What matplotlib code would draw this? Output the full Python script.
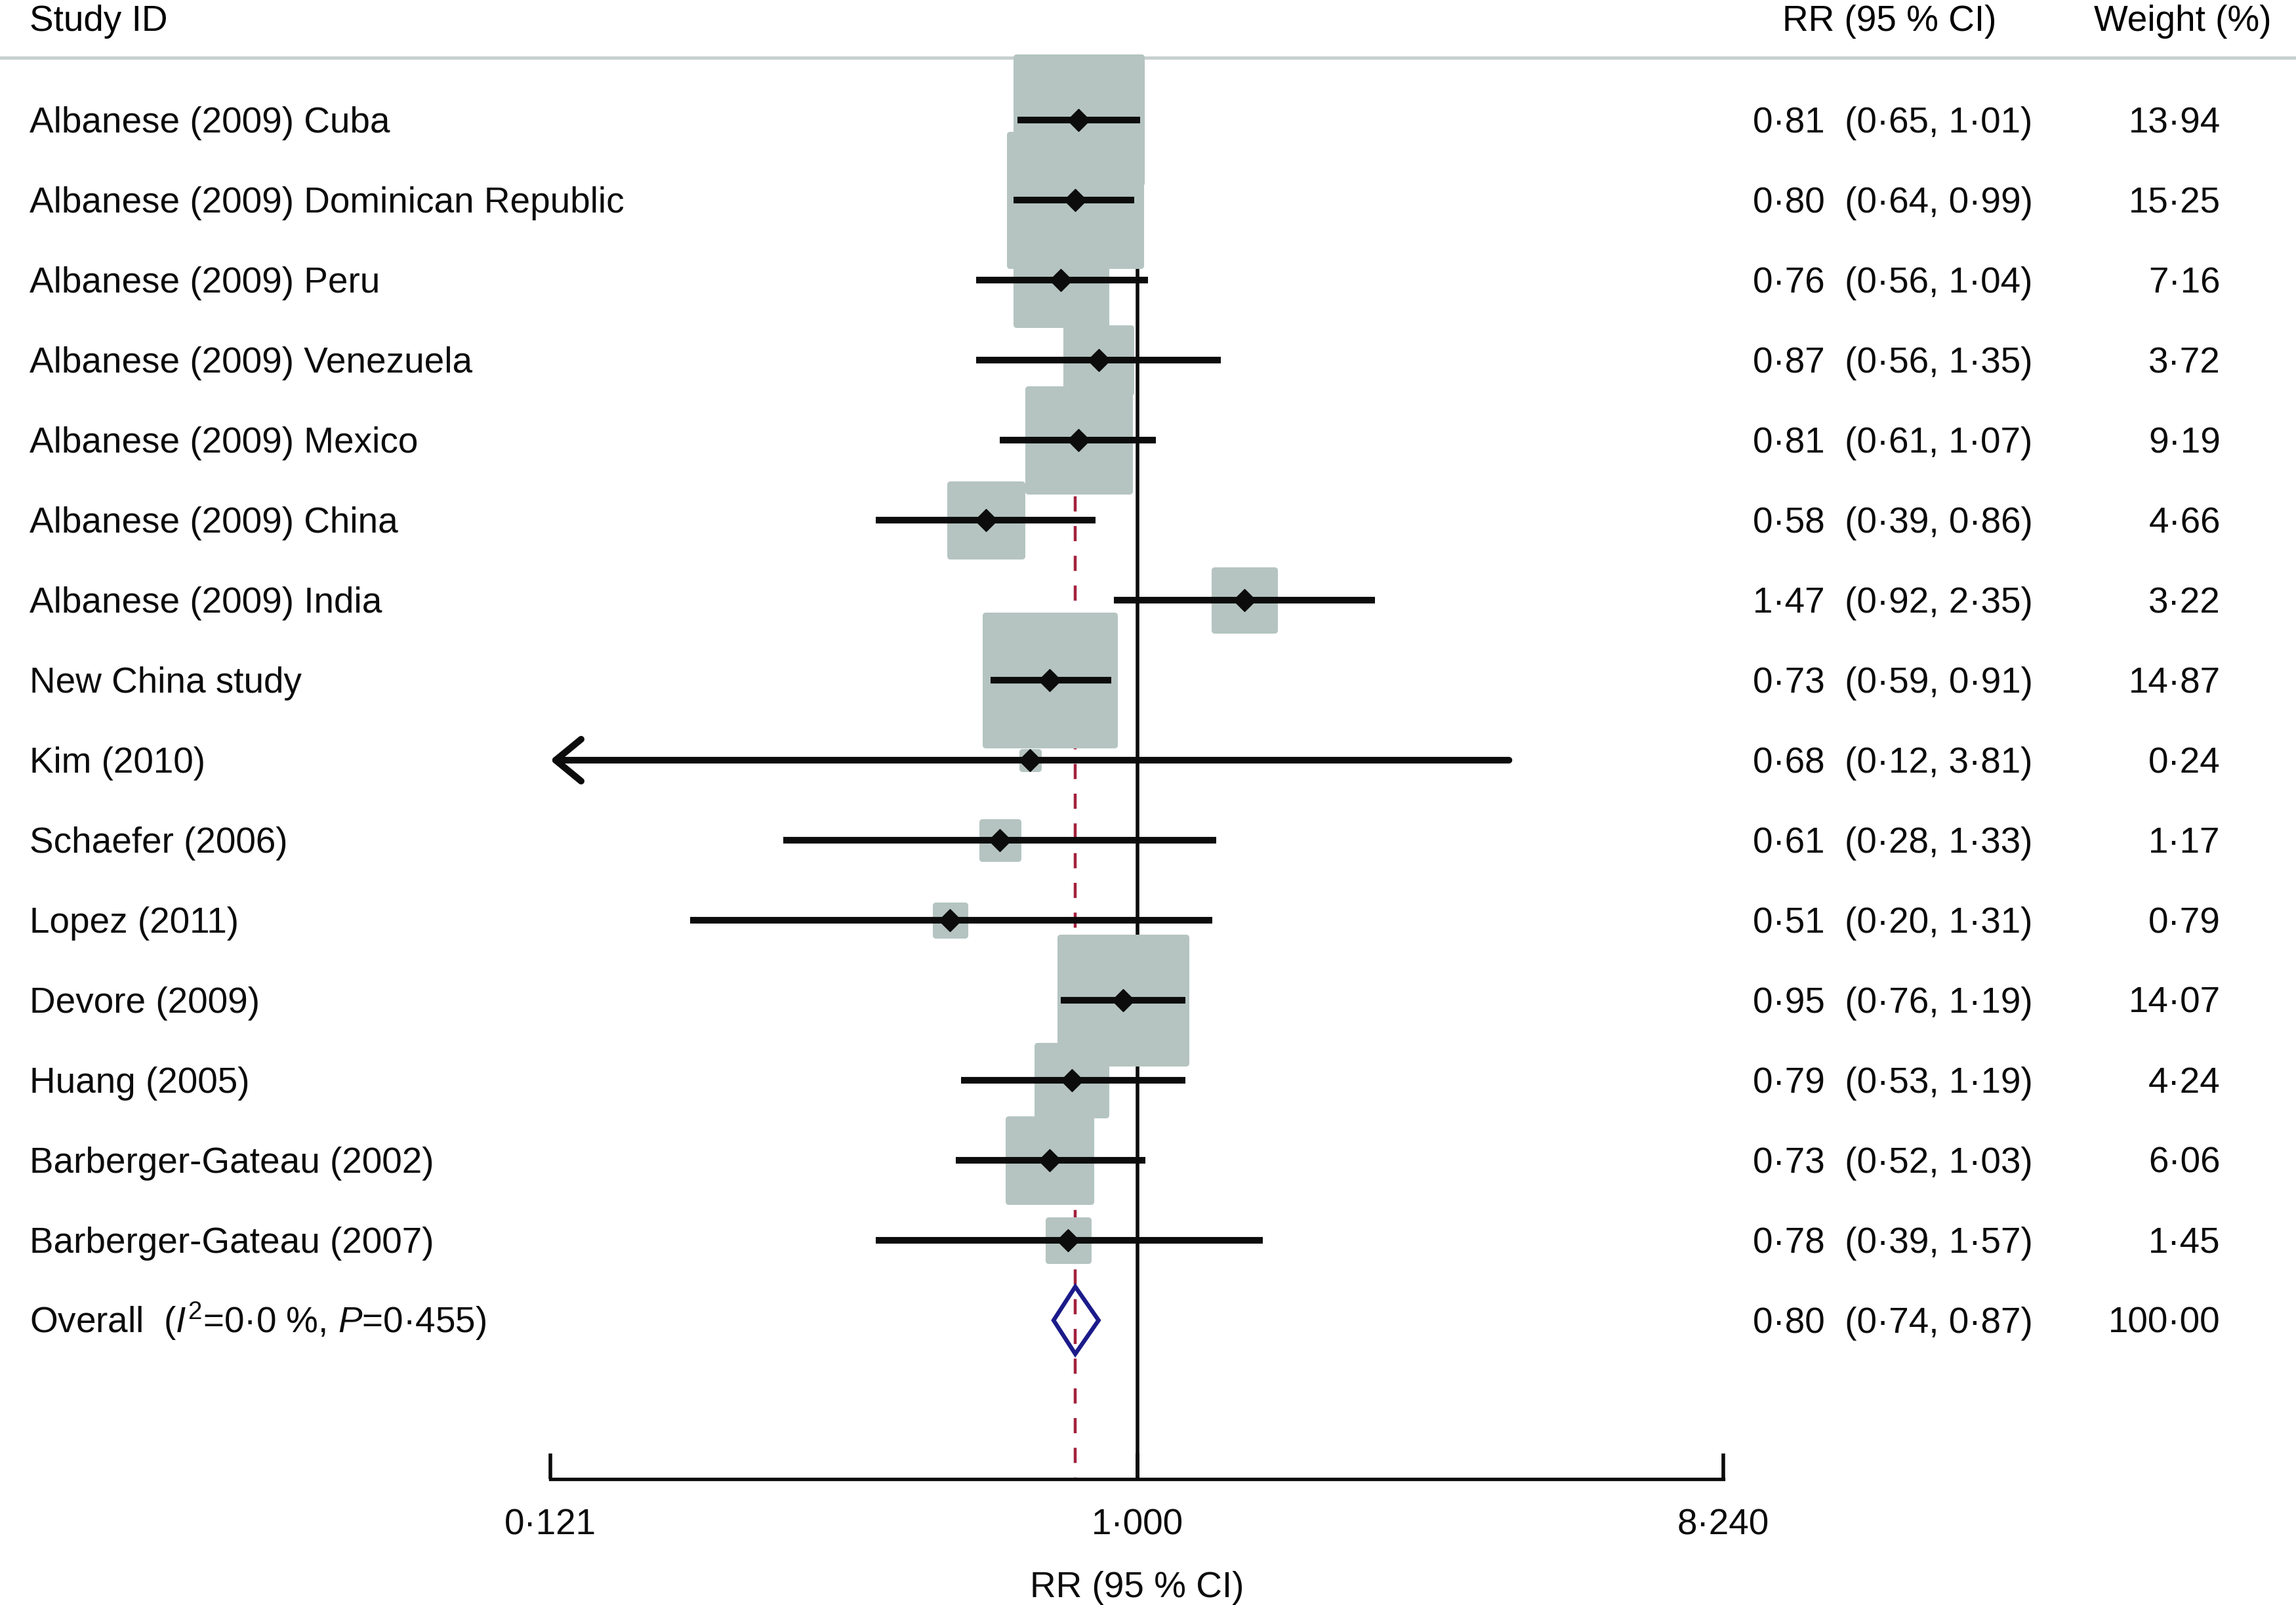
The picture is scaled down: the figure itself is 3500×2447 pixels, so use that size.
import numpy as np
import matplotlib
matplotlib.use('Agg')
import matplotlib.pyplot as plt
from matplotlib import transforms
from matplotlib.ticker import NullLocator

plt.rcParams['font.family'] = ['Liberation Sans', 'DejaVu Sans']
plt.rcParams['mathtext.fontset'] = 'custom'
plt.rcParams['mathtext.rm'] = 'Liberation Sans'
plt.rcParams['mathtext.it'] = 'Liberation Sans:italic'

# ---- data ----
studies = ['Albanese (2009) Cuba', 'Albanese (2009) Dominican Republic',
           'Albanese (2009) Peru', 'Albanese (2009) Venezuela',
           'Albanese (2009) Mexico', 'Albanese (2009) China',
           'Albanese (2009) India', 'New China study', 'Kim (2010)',
           'Schaefer (2006)', 'Lopez (2011)', 'Devore (2009)', 'Huang (2005)',
           'Barberger-Gateau (2002)', 'Barberger-Gateau (2007)']
rr = np.array([0.81, 0.80, 0.76, 0.87, 0.81, 0.58, 1.47, 0.73, 0.68,
               0.61, 0.51, 0.95, 0.79, 0.73, 0.78])
ci_lo = np.array([0.65, 0.64, 0.56, 0.56, 0.61, 0.39, 0.92, 0.59, 0.12,
                  0.28, 0.20, 0.76, 0.53, 0.52, 0.39])
ci_hi = np.array([1.01, 0.99, 1.04, 1.35, 1.07, 0.86, 2.35, 0.91, 3.81,
                  1.33, 1.31, 1.19, 1.19, 1.03, 1.57])
weight = np.array([13.94, 15.25, 7.16, 3.72, 9.19, 4.66, 3.22, 14.87, 0.24,
                   1.17, 0.79, 14.07, 4.24, 6.06, 1.45])

overall_label = r'Overall  ($I^2$=0·0 %, $P$=0·455)'
overall_rr, overall_lo, overall_hi, overall_w = 0.80, 0.74, 0.87, 100.00
axis_ticks = [0.121, 1.000, 8.240]

# ---- style ----
BLACK = '#0b0c0b'
GREY = '#b5c4c1'
RULE = '#c7d1cf'
RED = '#a3213d'
NAVY = '#1b1b8a'
FS = 39.5

def dot(v, nd):
    return f'{v:.{nd}f}'.replace('.', '·')

fig = plt.figure(figsize=(35, 24.47), dpi=100)
ax = fig.add_axes([839 / 3500, 1 - 2255 / 2447, (2627 - 839) / 3500, 2255 / 2447])
ax.patch.set_visible(False)
ax.set_xscale('log')
ax.set_xlim(axis_ticks[0], axis_ticks[-1])
ybot = 16.984
ax.set_ylim(ybot, -1.5)

rows = np.arange(len(studies))
orow = len(studies)
base = 0.156  # baseline offset (rows) so caps are centred on the row

# reference lines
ax.vlines(1.0, -0.5, ybot, colors=BLACK, lw=4.0, zorder=1)
ax.vlines(overall_rr, -0.5, ybot, colors=RED, lw=3.2,
          linestyles=(0, (5.2, 5.0)), zorder=1)

# weight boxes
sc = ax.scatter(rr, rows, s=1359 * weight, marker='s', color=GREY,
                edgecolors=GREY, linewidths=6.5, zorder=2)
sc.set_joinstyle('round')

# confidence intervals
xmin = ax.get_xlim()[0]
inside = ci_lo >= xmin
ci = ax.hlines(rows[inside], ci_lo[inside], ci_hi[inside], colors=BLACK,
               lw=7.3, zorder=3)
ci.set_capstyle('butt')
for r, h in zip(rows[~inside], ci_hi[~inside]):
    ax.annotate('', xy=(xmin, r), xytext=(h, r), annotation_clip=False,
                arrowprops=dict(arrowstyle='->,head_length=2.8,head_width=2.3',
                                lw=7.3, color=BLACK, shrinkA=0, shrinkB=0,
                                mutation_scale=10), zorder=3)

ax.plot(rr, rows, 'D', ms=17, color=BLACK, linestyle='none', zorder=4)

# pooled estimate
h = 0.42
ax.fill([overall_lo, overall_rr, overall_hi, overall_rr],
        [orow, orow - h, orow, orow + h], fill=False, edgecolor=NAVY,
        lw=4.6, zorder=4)

# axis
for s in ['left', 'right', 'top']:
    ax.spines[s].set_visible(False)
ax.spines['bottom'].set_bounds(axis_ticks[0], axis_ticks[-1])
ax.spines['bottom'].set_linewidth(3.8)
ax.spines['bottom'].set_color(BLACK)
ax.set_yticks([])
ax.xaxis.set_minor_locator(NullLocator())
ax.set_xticks(axis_ticks)
ax.set_xticklabels([dot(t, 3) for t in axis_ticks])
ax.tick_params(axis='x', direction='in', length=28, width=4, pad=32,
               labelsize=FS, color=BLACK, labelcolor=BLACK)
ax.set_xlabel('RR (95 % CI)', fontsize=FS, color=BLACK)
ax.xaxis.set_label_coords(0.5, -0.062)

# table text
tr = transforms.blended_transform_factory(fig.transFigure, ax.transData)
ax.plot([0, 1], [-0.78, -0.78], transform=tr, color=RULE, lw=3.6,
        clip_on=False, zorder=0.5)

hy = -1.115
ax.text(0.0129, hy, 'Study ID', transform=tr, fontsize=FS, va='baseline', ha='left')
ax.text(0.8229, hy, 'RR (95 % CI)', transform=tr, fontsize=FS, va='baseline', ha='center')
ax.text(0.9507, hy, 'Weight (%)', transform=tr, fontsize=FS, va='baseline', ha='center')

labels = studies + [overall_label]
all_rr = list(rr) + [overall_rr]
all_lo = list(ci_lo) + [overall_lo]
all_hi = list(ci_hi) + [overall_hi]
all_w = list(weight) + [overall_w]
for i, lab in enumerate(labels):
    y = i + base
    ax.text(0.0129, y, lab, transform=tr, fontsize=FS, va='baseline', ha='left',
            color=BLACK, clip_on=False)
    ax.text(0.7634, y, f'{dot(all_rr[i], 2)}  ({dot(all_lo[i], 2)}, {dot(all_hi[i], 2)})',
            transform=tr, fontsize=FS, va='baseline', ha='left', color=BLACK)
    ax.text(0.9671, y, dot(all_w[i], 2), transform=tr, fontsize=FS,
            va='baseline', ha='right', color=BLACK)

fig.savefig('out.png', dpi=100)
